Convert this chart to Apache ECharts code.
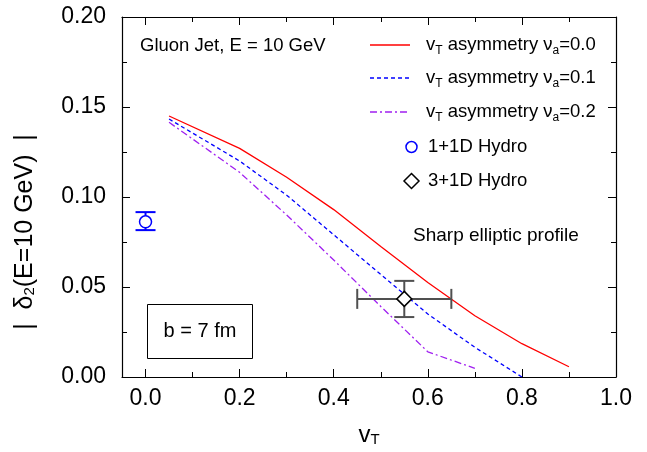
<!DOCTYPE html>
<html><head><meta charset="utf-8">
<script src="https://cdn.jsdelivr.net/npm/echarts@6/dist/echarts.min.js"></script>
<style>html,body{margin:0;padding:0;background:#fff}#c{width:647px;height:452px}</style>
</head><body><div id="c"></div>
<script>
const xMajorTicks = [0, 0.2, 0.4, 0.6, 0.8, 1.0];
const xMinorTicks = [0.1, 0.3, 0.5, 0.7, 0.9];
const redX = [0.05, 0.2, 0.3, 0.4, 0.5, 0.6, 0.7, 0.8, 0.9];
const redY = [0.145, 0.127, 0.111, 0.093, 0.0725, 0.0525, 0.034, 0.0185, 0.0057];
const blueX = [0.05, 0.2, 0.3, 0.4, 0.5, 0.6, 0.7, 0.8];
const blueY = [0.1433, 0.120, 0.101, 0.079, 0.057, 0.035, 0.0165, 0.0];
const purpleX = [0.05, 0.2, 0.3, 0.4, 0.5, 0.6, 0.7];
const purpleY = [0.1415, 0.1137, 0.090, 0.065, 0.0392, 0.0140, 0.0048];
// hydro points: x, y, xlo, xhi, ylo, yhi
const hydro1D = [0.0, 0.0862, 0.0, 0.0, 0.0816, 0.0916];
const hydro3D = [0.55, 0.0434, 0.45, 0.65, 0.0333, 0.0534];

const FONT = 'Liberation Sans, Arial, sans-serif';
const pair = (xs, ys) => xs.map((x, i) => [x, ys[i]]);

const chart = echarts.init(document.getElementById('c'), null, {renderer: 'canvas'});

function errRender(color, cap) {
  return function (params, api) {
    const x = api.value(0), y = api.value(1);
    const xl = api.value(2), xh = api.value(3), yl = api.value(4), yh = api.value(5);
    const ch = [];
    const st = {stroke: color, lineWidth: 2};
    const pb = api.coord([x, yl]), pt = api.coord([x, yh]);
    ch.push({type: 'line', shape: {x1: pb[0], y1: pb[1], x2: pt[0], y2: pt[1]}, style: st});
    ch.push({type: 'line', shape: {x1: pb[0] - cap, y1: pb[1], x2: pb[0] + cap, y2: pb[1]}, style: st});
    ch.push({type: 'line', shape: {x1: pt[0] - cap, y1: pt[1], x2: pt[0] + cap, y2: pt[1]}, style: st});
    if (xh > xl) {
      const pl = api.coord([xl, y]), pr = api.coord([xh, y]);
      ch.push({type: 'line', shape: {x1: pl[0], y1: pl[1], x2: pr[0], y2: pr[1]}, style: st});
      ch.push({type: 'line', shape: {x1: pl[0], y1: pl[1] - cap, x2: pl[0], y2: pl[1] + cap}, style: st});
      ch.push({type: 'line', shape: {x1: pr[0], y1: pr[1] - cap, x2: pr[0], y2: pr[1] + cap}, style: st});
    }
    return {type: 'group', children: ch};
  };
}

const xBase = {type: 'value', min: -0.05, max: 1.0, splitLine: {show: false}};
const sub = {fontSize: 12, lineHeight: 12, verticalAlign: 'bottom', fontFamily: FONT, color: '#000'};
const nrm = {fontSize: 18.5, lineHeight: 24, fontFamily: FONT, color: '#000'};

function legendText(x, y, text) {
  return {type: 'text', x: x, y: y, style: {text: text, rich: {n: nrm, s: sub}, verticalAlign: 'middle', align: 'left', fill: '#000', font: '18.5px ' + FONT}};
}

const axLine = {show: true, onZero: false, lineStyle: {color: '#000', width: 1.2}};
const noLine = {show: false, onZero: false};

const option = {
  animation: false,
  backgroundColor: '#fff',
  grid: {left: 122, right: 31, top: 17, bottom: 69, containLabel: false},
  xAxis: [
    Object.assign({}, xBase, {position: 'bottom', axisLine: axLine,
      axisTick: {show: true, inside: true, length: 8, customValues: xMajorTicks, lineStyle: {color: '#000'}},
      axisLabel: {show: true, customValues: xMajorTicks, margin: 10, fontSize: 23, fontFamily: FONT, color: '#000',
        formatter: v => v.toFixed(1)},
      name: 'v{s|T}', nameLocation: 'middle', nameGap: 46,
      nameTextStyle: {fontSize: 24, fontFamily: FONT, color: '#000', rich: {s: {fontSize: 15, lineHeight: 14, verticalAlign: 'bottom', fontFamily: FONT, color: '#000'}}}
    }),
    Object.assign({}, xBase, {position: 'bottom', axisLine: noLine,
      axisTick: {show: true, inside: true, length: 5, customValues: xMinorTicks, lineStyle: {color: '#000'}},
      axisLabel: {show: false}}),
    Object.assign({}, xBase, {position: 'top', axisLine: axLine,
      axisTick: {show: true, inside: true, length: 8, customValues: xMajorTicks, lineStyle: {color: '#000'}},
      axisLabel: {show: false}}),
    Object.assign({}, xBase, {position: 'top', axisLine: noLine,
      axisTick: {show: true, inside: true, length: 5, customValues: xMinorTicks, lineStyle: {color: '#000'}},
      axisLabel: {show: false}})
  ],
  yAxis: [
    {type: 'value', min: 0, max: 0.2, interval: 0.05, position: 'left', splitLine: {show: false},
      axisLine: axLine,
      axisTick: {show: true, inside: true, length: 8, lineStyle: {color: '#000'}},
      minorTick: {show: true, splitNumber: 2, length: 5, lineStyle: {color: '#000'}},
      axisLabel: {margin: 16, fontSize: 23, fontFamily: FONT, color: '#000', formatter: v => v.toFixed(2)}},
    {type: 'value', min: 0, max: 0.2, interval: 0.05, position: 'right', splitLine: {show: false},
      axisLine: axLine,
      axisTick: {show: true, inside: true, length: 8, lineStyle: {color: '#000'}},
      minorTick: {show: true, splitNumber: 2, length: 5, lineStyle: {color: '#000'}},
      axisLabel: {show: false}}
  ],
  series: [
    {type: 'line', data: pair(redX, redY), symbol: 'none', lineStyle: {color: '#ff0000', width: 1.3, type: 'solid'}, z: 3},
    {type: 'line', data: pair(blueX, blueY), symbol: 'none', lineStyle: {color: '#0000ff', width: 1.3, type: [4, 3]}, z: 3},
    {type: 'line', data: pair(purpleX, purpleY), symbol: 'none', lineStyle: {color: '#a020f0', width: 1.3, type: [7, 3, 2, 3]}, z: 3},
    {type: 'custom', data: [hydro1D], renderItem: errRender('#0000ff', 10), z: 4},
    {type: 'custom', data: [hydro3D], renderItem: errRender('#505050', 10), z: 4},
    {type: 'scatter', data: [[hydro1D[0], hydro1D[1]]], symbol: 'circle', symbolSize: 12,
      itemStyle: {color: '#fff', borderColor: '#0000ff', borderWidth: 1.5, opacity: 1}, z: 5},
    {type: 'scatter', data: [[hydro3D[0], hydro3D[1]]], symbol: 'diamond', symbolSize: 15,
      itemStyle: {color: '#fff', borderColor: '#000', borderWidth: 1.5, opacity: 1}, z: 5}
  ],
  graphic: [
    {type: 'text', x: 25, y: 232, rotation: Math.PI / 2,
      style: {text: '|  δ{s|2}(E=10 GeV)  |', rich: {s: {fontSize: 15, lineHeight: 14, verticalAlign: 'bottom', fontFamily: FONT, fill: '#000'}},
        font: '25px ' + FONT, fill: '#000', align: 'center', verticalAlign: 'middle'}},
    {type: 'text', x: 140, y: 46, style: {text: 'Gluon Jet, E = 10 GeV', font: '18.5px ' + FONT, fill: '#000', verticalAlign: 'middle'}},
    {type: 'line', shape: {x1: 370, y1: 45, x2: 410, y2: 45}, style: {stroke: '#ff0000', lineWidth: 1.3}},
    {type: 'line', shape: {x1: 370, y1: 78, x2: 410, y2: 78}, style: {stroke: '#0000ff', lineWidth: 1.3, lineDash: [4, 3]}},
    {type: 'line', shape: {x1: 370, y1: 112, x2: 410, y2: 112}, style: {stroke: '#a020f0', lineWidth: 1.3, lineDash: [7, 3, 2, 3]}},
    legendText(426, 45, '{n|v}{s|T}{n| asymmetry ν}{s|a}{n|=0.0}'),
    legendText(426, 78, '{n|v}{s|T}{n| asymmetry ν}{s|a}{n|=0.1}'),
    legendText(426, 112, '{n|v}{s|T}{n| asymmetry ν}{s|a}{n|=0.2}'),
    {type: 'circle', shape: {cx: 411.5, cy: 147, r: 5.5}, style: {fill: '#fff', stroke: '#0000ff', lineWidth: 1.5}},
    {type: 'text', x: 428, y: 147, style: {text: '1+1D Hydro', font: '18.5px ' + FONT, fill: '#000', verticalAlign: 'middle'}},
    {type: 'polygon', shape: {points: [[411.5, 173.5], [419, 181], [411.5, 188.5], [404, 181]]}, style: {fill: '#fff', stroke: '#000', lineWidth: 1.5}},
    {type: 'text', x: 428, y: 181, style: {text: '3+1D Hydro', font: '18.5px ' + FONT, fill: '#000', verticalAlign: 'middle'}},
    {type: 'text', x: 413, y: 236, style: {text: 'Sharp elliptic profile', font: '19px ' + FONT, fill: '#000', verticalAlign: 'middle'}},
    {type: 'rect', shape: {x: 147.5, y: 304.5, width: 105, height: 54}, style: {fill: '#fff', stroke: '#000', lineWidth: 1}},
    {type: 'text', x: 200, y: 331, style: {text: 'b = 7 fm', font: '20px ' + FONT, fill: '#000', align: 'center', verticalAlign: 'middle'}}
  ]
};
chart.setOption(option);
</script>
</body></html>
